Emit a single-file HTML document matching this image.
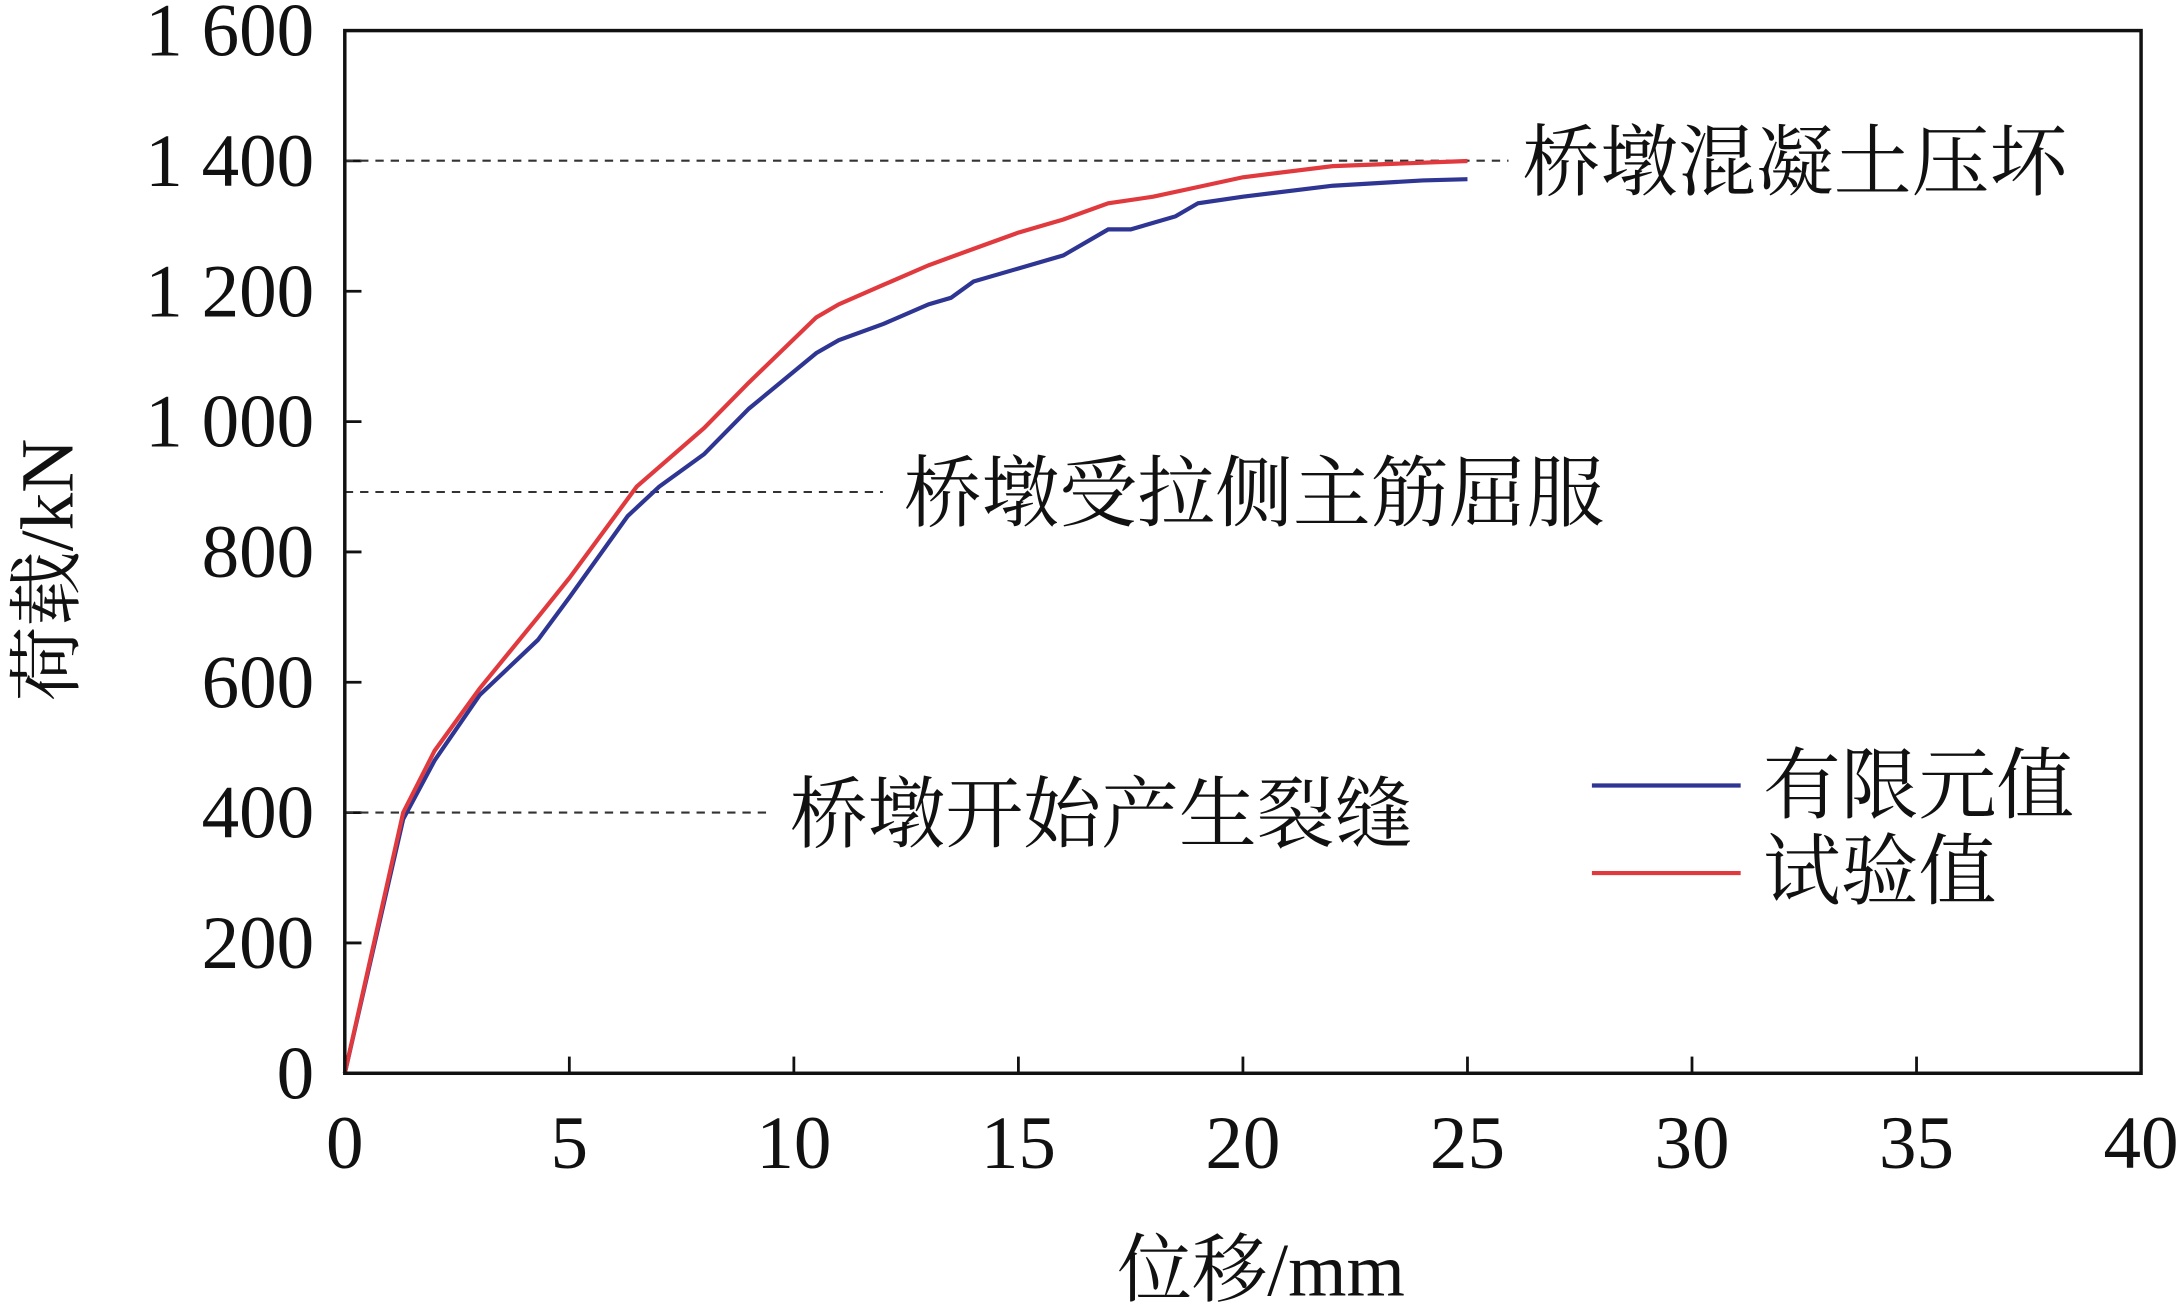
<!DOCTYPE html>
<html><head><meta charset="utf-8"><style>
html,body{margin:0;padding:0;background:#fff;}
svg{display:block;}
text{font-family:"Liberation Serif","Noto Serif CJK SC","Noto Sans CJK SC",serif;fill:#111;}
</style></head><body>
<svg id="s" width="2180" height="1306" viewBox="0 0 1568 939.4" preserveAspectRatio="none" xmlns="http://www.w3.org/2000/svg">
<rect x="0" y="0" width="1568" height="940" fill="#fff"/>
<g id="ticks" stroke="#111" stroke-width="2"></g>
<line x1="248" y1="115.6" x2="1085" y2="115.6" stroke="#333" stroke-width="1.5" stroke-dasharray="6,5"/>
<line x1="248" y1="353.9" x2="635" y2="353.9" stroke="#333" stroke-width="1.5" stroke-dasharray="6,5"/>
<line x1="248" y1="584.5" x2="555" y2="584.5" stroke="#333" stroke-width="1.5" stroke-dasharray="6,5"/>
<path id="blue" fill="none" stroke="#2e3592" stroke-width="3"/>
<path id="red" fill="none" stroke="#e03a3e" stroke-width="3"/>
<rect x="248" y="22" width="1292" height="750" fill="none" stroke="#111" stroke-width="2.5"/>
<g id="lbl" font-size="54"></g>
<text x="1095" y="136" font-size="56">桥墩混凝土压坏</text>
<text x="650" y="374" font-size="56">桥墩受拉侧主筋屈服</text>
<text x="568" y="605" font-size="56">桥墩开始产生裂缝</text>
<line x1="1145" y1="565" x2="1252" y2="565" stroke="#2e3592" stroke-width="3"/>
<line x1="1145" y1="628" x2="1252" y2="628" stroke="#e03a3e" stroke-width="3"/>
<text x="1268" y="584" font-size="56">有限元值</text>
<text x="1268" y="646" font-size="56">试验值</text>
<text x="907" y="932" font-size="54" text-anchor="middle">位移/mm</text>
<text transform="translate(52,410) rotate(-90)" font-size="54" text-anchor="middle">荷载/kN</text>
</svg>
<script>
var X=function(v){return 248+v*32.3},Y=function(v){return 772-v*750/1600};
var b=[[0,0],[1.3,390],[2,480],[3,580],[4.3,665],[5,730],[6.3,855],[7,900],[8,950],[9,1020],[10.5,1105],[11,1125],[12,1150],[13,1180],[13.5,1190],[14,1215],[15,1235],[16,1255],[17,1295],[17.5,1295],[18.5,1315],[19,1335],[20,1345],[22,1362],[24,1370],[25,1372]];
var r=[[0,0],[1.3,400],[2,495],[3,590],[4.3,700],[5,760],[6.5,900],[8,990],[9,1060],[10.5,1160],[11,1180],[12,1210],[13,1240],[14,1265],[15,1290],[16,1310],[17,1335],[18,1345],[19,1360],[20,1375],[22,1392],[25,1400]];
function p(a){return a.map(function(q,i){return(i?'L':'M')+X(q[0]).toFixed(1)+','+Y(q[1]).toFixed(1)}).join('')}
document.getElementById('blue').setAttribute('d',p(b));
document.getElementById('red').setAttribute('d',p(r));
var t='',l='';
for(var i=0;i<=8;i++){var x=X(i*5);t+='<line x1="'+x+'" y1="772" x2="'+x+'" y2="760"/>';l+='<text x="'+x+'" y="840" text-anchor="middle">'+(i*5)+'</text>';}
var ys=['0','200','400','600','800','1 000','1 200','1 400','1 600'];
for(var j=0;j<=8;j++){var y=Y(j*200);t+='<line x1="248" y1="'+y+'" x2="260" y2="'+y+'"/>';l+='<text x="226" y="'+(y+18)+'" text-anchor="end">'+ys[j]+'</text>';}
document.getElementById('ticks').innerHTML=t;document.getElementById('lbl').innerHTML=l;
</script>
</body></html>
